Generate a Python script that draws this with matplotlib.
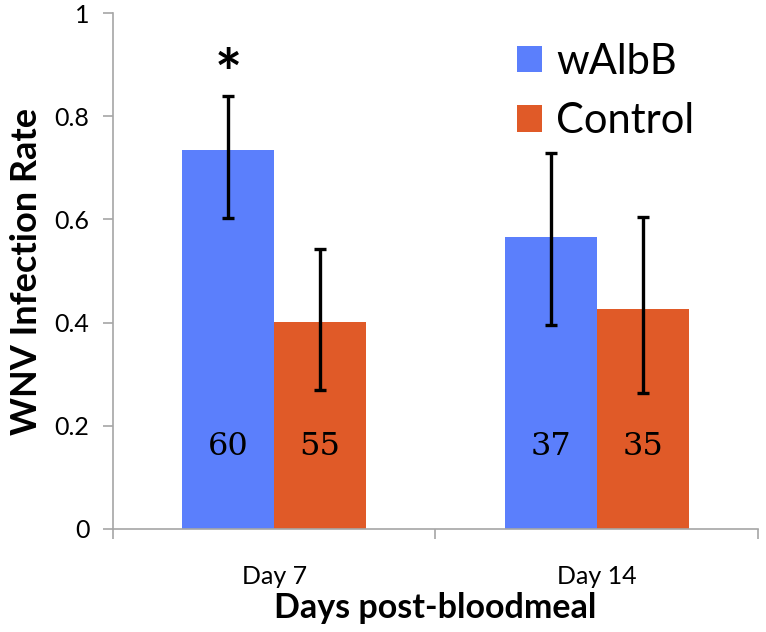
import matplotlib
matplotlib.use("Agg")
import matplotlib.pyplot as plt
import numpy as np

days = ["Day 7", "Day 14"]
groups = ["wAlbB", "Control"]
walbb_rate = [0.734, 0.566]
walbb_low = [0.602, 0.395]
walbb_high = [0.840, 0.728]
control_rate = [0.401, 0.426]
control_low = [0.269, 0.263]
control_high = [0.542, 0.605]
walbb_n = [60, 37]
control_n = [55, 35]
yticks = [0, 0.2, 0.4, 0.6, 0.8, 1.0]
ytick_labels = ["0", "0.2", "0.4", "0.6", "0.8", "1"]

blue = "#5b7ffc"
orange = "#e05a28"
grey = "#a6a6a6"
sans = ["Lato", "DejaVu Sans"]

fig = plt.figure(figsize=(7.66, 6.32), dpi=100)
ax = fig.add_axes([0.1475, 0.163, 0.842, 0.8164])

x = np.arange(len(days))
w = 0.285
errkw = dict(ecolor="black", elinewidth=2.4, capsize=4, capthick=2.4)

for off, rate, lo, hi, n, col, name in [
    (-w / 2, walbb_rate, walbb_low, walbb_high, walbb_n, blue, groups[0]),
    (w / 2, control_rate, control_low, control_high, control_n, orange, groups[1]),
]:
    rate = np.array(rate)
    yerr = [rate - np.array(lo), np.array(hi) - rate]
    ax.bar(x + off, rate, w, color=col, label=name, zorder=2)
    ax.errorbar(x + off, rate, yerr=yerr, fmt="none", zorder=3, **errkw)
    for xi, ni in zip(x + off, n):
        ax.text(xi, 0.16, str(ni), ha="center", va="center",
                fontsize=23, family="DejaVu Serif", zorder=4)

# significance marker over Day 7 wAlbB
ax.text(x[0] - w / 2, 0.875, "*", ha="center", va="center",
        fontsize=46, fontweight="bold", family=sans)

ax.set_xlim(-0.5, 1.5)
ax.set_ylim(0, 1)
ax.set_yticks(yticks)
ax.set_yticklabels(ytick_labels, family=sans, fontsize=18)
ax.set_xticks([-0.5, 0.5, 1.5])
ax.set_xticklabels([])
ax.set_xticks(x, minor=True)
ax.set_xticklabels(days, minor=True, family=sans, fontsize=18)
ax.tick_params(axis="x", which="minor", length=0, pad=26)
ax.tick_params(axis="x", which="major", direction="out", length=7, color=grey, width=1.2)
ax.tick_params(axis="y", direction="out", length=7, color=grey, width=1.2, pad=10)

for s in ["top", "right"]:
    ax.spines[s].set_visible(False)
for s in ["left", "bottom"]:
    ax.spines[s].set_color(grey)
    ax.spines[s].set_linewidth(1.2)

ax.set_ylabel("WNV Infection Rate", family=sans, fontsize=26, fontweight="bold", labelpad=8)
ax.set_xlabel("Days post-bloodmeal", family=sans, fontsize=24.5, fontweight="bold", labelpad=3)

ax.legend(loc="upper left", bbox_to_anchor=(0.6, 0.975), frameon=False,
          prop={"family": sans, "size": 30}, handlelength=0.6, handleheight=0.6,
          handletextpad=0.35, labelspacing=0.52, borderaxespad=0)

fig.savefig("out.png", dpi=100)
